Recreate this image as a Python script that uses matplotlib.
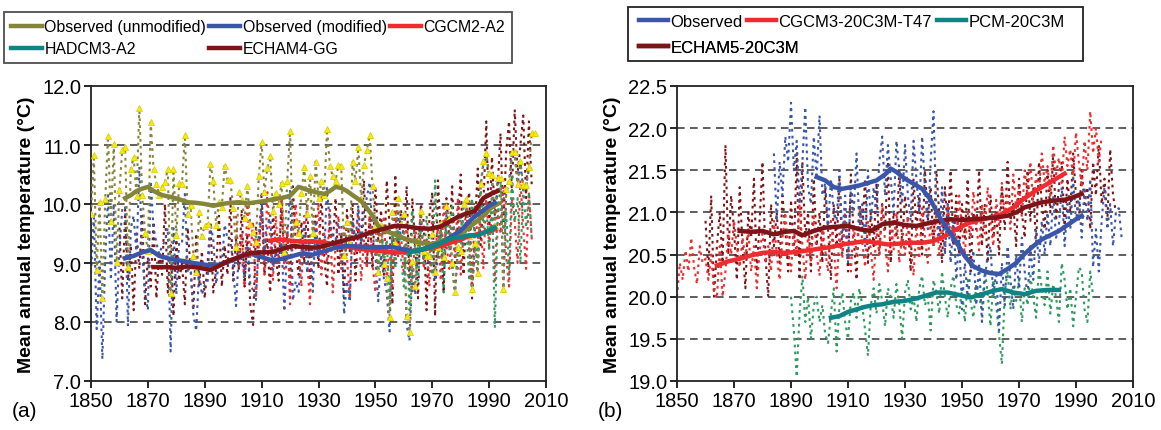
import matplotlib
matplotlib.use("Agg")
import matplotlib.pyplot as plt
from matplotlib.patches import Rectangle

plt.rcParams['font.family'] = ['Liberation Sans', 'DejaVu Sans']

# ---------------- Panel (a) data ----------------
obs_unmod_start = 1850
obs_unmod = [
    9.83, 10.83, 8.88, 10.03, 8.40, 10.08, 11.15, 9.71, 11.01, 9.01,
    10.24, 10.92, 10.96, 8.93, 10.59, 10.80, 10.14, 11.63, 10.15, 9.51,
    9.20, 11.39, 10.59, 10.34, 10.15, 10.29, 10.37, 10.59, 8.50, 10.59,
    9.47, 10.35, 10.34, 11.17, 9.83, 9.98, 9.12, 8.85, 9.86, 9.46,
    9.63, 9.66, 10.68, 10.39, 9.64, 10.03, 9.95, 10.65, 10.41, 10.41,
    9.93, 9.27, 10.20, 10.06, 9.76, 10.31, 9.66, 9.53, 9.36, 10.47,
    11.05, 10.20, 10.61, 10.81, 9.88, 10.19, 10.00, 10.36, 9.18, 10.39,
    11.24, 9.36, 9.69, 9.51, 10.19, 10.63, 9.83, 10.47, 9.51, 10.72,
    10.10, 10.39, 10.15, 11.27, 10.65, 10.47, 10.39, 10.66, 10.65, 9.13,
    9.69, 9.34, 10.72, 10.39, 10.96, 10.08, 10.66, 10.92, 11.17, 10.31,
    9.63, 8.85, 9.64, 8.98, 8.75, 8.09, 9.86, 9.34, 10.10, 9.66,
    9.83, 8.10, 7.83, 9.03, 8.61, 9.37, 9.88, 9.20, 9.12, 9.12,
    9.50, 8.85, 9.27, 9.68, 9.10, 9.97, 9.76, 9.00, 8.51, 9.27,
    9.20, 10.00, 10.08, 9.46, 8.56, 9.34, 8.83, 10.34, 10.73, 10.86,
    10.53, 10.50, 9.63, 10.44, 10.44, 8.56, 10.25, 10.39, 10.88, 10.88,
    10.34, 10.73, 10.32, 10.32, 10.63, 11.20, 11.20,
]
obs_mod_start = 1850
obs_mod = [
    8.83, 9.83, 7.88, 9.03, 7.37, 9.08, 10.15, 8.71, 10.01, 8.01,
    9.24, 9.92, 9.96, 7.93, 9.59, 9.80, 9.14, 10.63, 9.15, 8.51,
    8.20, 10.39, 9.59, 9.34, 9.15, 9.29, 9.37, 9.59, 7.50, 9.59,
    8.47, 9.35, 9.34, 10.17, 8.83, 8.98, 8.12, 7.85, 8.86, 8.46,
    8.63, 8.66, 9.68, 9.39, 8.64, 9.03, 8.95, 9.65, 9.41, 9.41,
    8.93, 8.27, 9.20, 9.06, 8.76, 9.31, 8.66, 8.53, 8.36, 9.47,
    10.05, 9.20, 9.61, 9.81, 8.88, 9.19, 9.00, 9.36, 8.18, 9.39,
    10.24, 8.36, 8.69, 8.51, 9.19, 9.63, 8.83, 9.47, 8.51, 9.72,
    9.10, 9.39, 9.15, 10.27, 9.65, 9.47, 9.39, 9.66, 9.65, 8.13,
    8.69, 8.34, 9.72, 9.39, 9.96, 9.28, 9.86, 10.12, 10.37, 9.51,
    9.13, 8.35, 9.14, 8.73, 8.50, 7.84, 9.61, 9.09, 9.85, 9.41,
    9.58, 7.95, 7.68, 8.88, 8.46, 9.22, 9.73, 9.05, 8.97, 8.97,
    9.35, 8.70, 9.12, 9.53, 8.95, 9.82, 9.71, 8.95, 8.46, 9.22,
    9.15, 9.95, 10.03, 9.41, 8.51, 9.29, 8.78, 10.29, 10.68, 10.81,
    10.48, 10.45, 9.58, 10.39, 10.39, 8.51, 10.20, 10.35, 10.80, 10.85,
    10.30, 10.70, 10.25, 10.30, 10.60,
]
cgcm2_start = 1901
cgcm2 = [
    9.8, 8.9, 9.5, 8.6, 10.0, 9.1, 9.7, 8.4, 9.3, 9.9,
    8.8, 10.2, 9.4, 8.7, 9.8, 9.0, 10.1, 8.9, 9.6, 8.3,
    9.5, 10.0, 9.2, 8.6, 9.8, 9.1, 8.3, 9.7, 9.4, 10.0,
    8.8, 9.5, 9.0, 9.9, 8.5, 9.3, 9.8, 8.9, 9.6, 9.1,
    8.4, 9.7, 9.2, 9.9, 8.7, 9.4, 8.9, 9.8, 9.0, 8.5,
    9.6, 9.2, 9.8, 8.7, 9.3, 8.6, 9.9, 9.1, 9.5, 8.8,
    9.7, 9.0, 8.5, 9.6, 9.3, 9.9, 8.9, 9.4, 8.6, 9.8,
    9.2, 9.6, 8.7, 10.0, 9.3, 8.9, 9.7, 9.1, 10.1, 8.8,
    9.5, 9.9, 9.2, 8.6, 10.0, 9.4, 9.7, 8.9, 10.2, 9.3,
    9.8, 8.7, 10.0, 9.5, 10.3, 9.1, 8.6, 10.1, 9.7, 9.0,
    10.4, 9.6, 8.9, 10.2, 9.4,
]
hadcm3_start = 1950
hadcm3 = [
    9.3, 8.8, 9.6, 9.0, 9.4, 8.3, 9.5, 8.9, 9.7, 9.1,
    8.6, 9.4, 8.2, 9.9, 9.2, 8.7, 9.6, 9.0, 9.8, 9.3,
    8.8, 10.4, 9.1, 9.6, 8.5, 9.7, 9.2, 10.0, 9.4, 8.9,
    9.8, 9.3, 9.6, 8.7, 10.1, 9.5, 9.0, 10.3, 9.6, 10.0,
    9.2, 10.2, 7.9, 9.7, 10.4, 9.5, 9.9, 8.8, 10.5, 9.7,
    10.1, 9.0, 10.3, 9.6, 10.2, 9.4,
]
echam4_start = 1860
echam4 = [
    9.6, 8.4, 9.9, 8.7, 9.3, 8.2, 9.5, 8.9, 9.8, 8.3,
    9.1, 8.6, 9.7, 8.4, 9.2, 8.8, 10.0, 8.5, 9.3, 8.1,
    9.4, 8.7, 9.0, 8.3, 9.6, 8.9, 8.2, 9.5, 8.6, 9.2,
    8.4, 9.0, 9.7, 8.5, 8.9, 9.8, 8.6, 9.3, 8.8, 10.1,
    8.7, 9.4, 8.9, 9.9, 8.6, 9.5, 8.3, 7.95, 9.6, 9.0,
    10.2, 8.8, 9.4, 8.5, 9.9, 9.1, 8.7, 10.1, 9.0, 9.5,
    8.6, 10.3, 9.2, 8.8, 9.7, 9.0, 10.0, 8.7, 9.4, 9.8,
    8.9, 10.2, 9.1, 8.6, 9.7, 9.3, 10.1, 8.8, 9.5, 8.4,
    9.9, 9.2, 10.0, 8.7, 9.6, 9.3, 10.4, 9.0, 9.8, 8.9,
    10.3, 9.4, 9.9, 8.8, 10.4, 9.6, 8.3, 10.5, 9.2, 9.9,
    9.4, 10.3, 8.6, 10.1, 9.3, 8.4, 10.0, 9.7, 8.2, 9.8,
    10.2, 8.1, 10.4, 9.5, 8.5, 10.1, 9.4, 10.3, 9.0, 9.7,
    10.5, 8.8, 9.9, 10.2, 8.4, 9.6, 10.6, 9.3, 10.0, 11.4,
    9.5, 10.8, 9.8, 10.3, 11.2, 9.6, 10.9, 11.4, 10.2, 11.6,
    10.5, 11.0, 11.5, 10.1, 11.4, 10.3,
]

# 25-yr running means
unmod_sm_years = [1862, 1864, 1866, 1868, 1870, 1872, 1875, 1878, 1881, 1884, 1887, 1890, 1893,
                  1896, 1899, 1902, 1905, 1908, 1911, 1914, 1917, 1920, 1923, 1926, 1929,
                  1932, 1934, 1936, 1938, 1940, 1942, 1945, 1947, 1949, 1951, 1953, 1956,
                  1960, 1965, 1970, 1975, 1980, 1985, 1988, 1991, 1993]
unmod_sm = [10.10, 10.15, 10.22, 10.26, 10.29, 10.22, 10.15, 10.12, 10.08, 10.03, 10.02, 10.00, 9.97,
            10.00, 10.02, 10.03, 10.01, 10.03, 10.05, 10.08, 10.10, 10.14, 10.29, 10.24, 10.20,
            10.17, 10.22, 10.29, 10.27, 10.22, 10.15, 10.05, 9.93, 9.80, 9.63, 9.55, 9.50,
            9.42, 9.35, 9.32, 9.40, 9.50, 9.68, 9.80, 9.95, 10.00]
mod_sm_years = [1862, 1865, 1868, 1871, 1874, 1877, 1880, 1883, 1886, 1889, 1893, 1896, 1900,
                1903, 1906, 1910, 1914, 1918, 1921, 1924, 1928, 1932, 1936, 1940, 1944,
                1948, 1952, 1956, 1960, 1963, 1966, 1970, 1974, 1977, 1980, 1984, 1987, 1990, 1992]
mod_sm = [9.08, 9.12, 9.18, 9.22, 9.12, 9.08, 9.05, 9.03, 9.00, 8.98, 8.95, 8.98, 9.05,
          9.12, 9.16, 9.10, 9.04, 9.08, 9.12, 9.16, 9.14, 9.20, 9.26, 9.29, 9.28,
          9.27, 9.27, 9.27, 9.23, 9.20, 9.22, 9.29, 9.36, 9.46, 9.55, 9.75, 9.86, 9.97, 10.02]
cgcm2_sm_years = [1913, 1916, 1920, 1924, 1928, 1932, 1936, 1940, 1944, 1948, 1952, 1956,
                  1960, 1964, 1968, 1972, 1975, 1978, 1982, 1986, 1990, 1992]
cgcm2_sm = [9.38, 9.40, 9.38, 9.36, 9.37, 9.35, 9.31, 9.28, 9.24, 9.22, 9.20, 9.18,
            9.18, 9.21, 9.24, 9.28, 9.32, 9.37, 9.44, 9.49, 9.54, 9.57]
hadcm3_sm_years = [1962, 1965, 1968, 1971, 1974, 1977, 1980, 1983, 1986, 1989, 1992]
hadcm3_sm = [9.18, 9.22, 9.25, 9.29, 9.36, 9.42, 9.44, 9.47, 9.47, 9.53, 9.60]
echam4_sm_years = [1872, 1876, 1880, 1884, 1888, 1892, 1895, 1898, 1902, 1906, 1910, 1914,
                   1918, 1921, 1925, 1929, 1933, 1937, 1941, 1945, 1949, 1953, 1957, 1961,
                   1965, 1969, 1973, 1976, 1979, 1982, 1985, 1988, 1991, 1993]
echam4_sm = [8.93, 8.93, 8.92, 8.94, 8.92, 8.88, 8.95, 9.03, 9.10, 9.17, 9.18, 9.19,
             9.25, 9.29, 9.27, 9.26, 9.30, 9.36, 9.41, 9.46, 9.53, 9.58, 9.63, 9.62,
             9.59, 9.58, 9.62, 9.70, 9.78, 9.84, 9.88, 10.10, 10.18, 10.22]

# ---------------- Panel (b) data ----------------
obs_b_start = 1884
obs_b = [
    21.7, 20.9, 21.6, 21.2, 21.9, 21.6, 22.3, 21.5, 21.85, 21.1,
    21.6, 22.25, 21.3, 21.1, 21.9, 21.4, 22.15, 21.2, 21.35, 20.8,
    21.4, 21.0, 20.9, 21.5, 20.7, 21.2, 20.4, 21.3, 21.0, 21.7,
    20.8, 21.1, 20.6, 21.5, 20.9, 21.3, 21.0, 21.6, 21.9, 21.2,
    21.8, 21.4, 21.0, 21.85, 21.5, 21.1, 21.8, 21.2, 20.9, 21.85,
    21.4, 21.0, 21.9, 21.3, 20.8, 21.6, 22.2, 21.0, 20.7, 21.3,
    20.5, 21.1, 20.4, 20.9, 20.2, 20.7, 19.85, 20.4, 20.0, 20.3,
    20.55, 19.9, 20.4, 19.7, 20.2, 20.5, 20.6, 20.0, 20.3, 19.6,
    20.4, 19.9, 20.6, 20.2, 19.85, 20.5, 20.1, 20.7, 20.3, 20.0,
    20.6, 20.2, 20.8, 20.4, 20.9, 20.5, 21.0, 20.6, 21.2, 20.7,
    20.85, 21.3, 20.6, 21.1, 20.8, 21.4, 20.9, 21.2, 20.7, 21.3,
    20.9, 21.4, 20.35, 20.8, 20.3, 20.9, 21.3, 20.8, 21.1, 20.6,
    21.0, 21.05, 20.7,
]
cgcm3_start = 1850
cgcm3 = [
    20.0, 20.4, 20.2, 20.55, 20.3, 20.7, 20.35, 20.15, 20.6, 20.4,
    20.45, 20.2, 20.5, 20.05, 19.98, 20.6, 20.0, 20.3, 20.75, 20.5,
    20.9, 20.6, 20.35, 20.7, 20.45, 20.8, 20.3, 20.6, 20.1, 20.55,
    20.75, 20.4, 20.6, 20.3, 20.9, 20.5, 20.2, 20.7, 21.0, 20.55,
    20.3, 20.8, 20.5, 21.1, 20.6, 20.2, 20.75, 20.4, 20.95, 20.5,
    20.25, 20.8, 20.55, 20.3, 20.9, 20.6, 20.1, 20.75, 20.45, 21.0,
    20.6, 20.3, 20.85, 20.5, 21.05, 20.65, 20.35, 20.9, 20.55, 20.2,
    20.8, 20.5, 21.1, 20.65, 20.3, 20.9, 20.55, 21.0, 20.4, 20.75,
    20.5, 20.95, 20.6, 20.25, 20.85, 20.45, 21.05, 20.7, 20.4, 20.9,
    20.6, 21.0, 20.5, 20.85, 20.55, 21.1, 20.7, 20.9, 20.6, 21.2,
    20.8, 20.5, 21.0, 20.7, 21.25, 20.85, 20.55, 21.1, 20.75, 21.3,
    20.9, 20.6, 21.15, 20.85, 21.35, 20.95, 21.2, 20.8, 21.45, 21.05,
    21.3, 20.95, 21.5, 21.2, 21.6, 21.1, 21.45, 21.25, 21.7, 21.35,
    21.55, 21.2, 21.8, 21.45, 21.65, 21.35, 21.9, 21.55, 21.75, 21.4,
    21.95, 21.6, 21.3, 21.85, 21.5, 22.2, 21.7, 22.0, 21.6, 21.9,
]
pcm_start = 1890
pcm = [
    20.0, 19.6, 19.05, 19.8, 20.25, 19.7, 20.0, 19.5, 19.9, 20.0,
    19.7, 19.9, 19.55, 19.45, 19.8, 20.1, 19.35, 19.9, 20.05, 19.7,
    19.5, 19.95, 20.05, 19.75, 20.1, 19.9, 19.6, 19.3, 19.9, 20.1,
    19.8, 20.15, 19.95, 19.65, 20.1, 20.0, 19.75, 20.15, 19.9, 19.5,
    20.05, 20.2, 19.85, 20.0, 19.7, 20.1, 20.25, 19.9, 20.0, 19.6,
    20.2, 20.05, 19.8, 20.3, 20.0, 19.75, 20.1, 20.25, 19.9, 19.8,
    20.1, 19.7, 20.2, 19.95, 19.75, 20.15, 20.0, 19.85, 20.3, 20.05,
    19.65, 20.2, 19.9, 19.55, 19.2, 20.05, 20.3, 19.85, 20.15, 19.95,
    20.2, 19.7, 20.1, 19.9, 20.25, 20.0, 19.75, 20.35, 20.1, 19.9,
    20.3, 19.8, 20.15, 20.0, 19.7, 20.4, 20.2, 19.85, 20.1, 19.65,
    20.0, 20.35, 20.3, 19.85, 19.7, 20.3, 20.0,
]
echam5_start = 1860
echam5 = [
    20.9, 20.3, 21.2, 20.0, 20.6, 21.0, 20.4, 21.8, 20.5, 21.2,
    20.8, 20.2, 21.3, 20.6, 20.1, 21.0, 20.7, 21.4, 20.3, 20.9,
    21.6, 20.5, 20.0, 21.1, 20.6, 21.0, 20.4, 21.2, 20.8, 20.3,
    21.15, 20.5, 21.7, 20.2, 21.6, 20.7, 21.0, 20.3, 21.4, 20.6,
    21.0, 20.4, 21.3, 20.8, 20.2, 21.1, 20.6, 21.4, 20.5, 21.0,
    20.3, 21.45, 20.7, 20.2, 21.1, 20.8, 21.4, 20.4, 21.0, 20.6,
    21.35, 20.5, 21.1, 20.8, 21.6, 20.4, 21.0, 20.7, 21.5, 20.6,
    21.2, 20.9, 20.3, 21.4, 20.8, 21.2, 20.5, 21.5, 20.9, 21.3,
    20.6, 21.5, 21.0, 20.4, 21.3, 20.8, 21.5, 20.6, 21.2, 20.5,
    21.1, 20.7, 21.4, 20.3, 21.0, 20.8, 21.5, 20.6, 21.1, 20.4,
    21.2, 20.7, 21.0, 20.5, 21.3, 20.8, 21.6, 20.9, 21.1, 20.6,
    21.4, 21.0, 20.7, 21.5, 20.9, 21.3, 20.6, 21.6, 21.1, 20.8,
    21.5, 21.0, 21.7, 20.9, 21.3, 21.6, 20.8, 21.4, 21.0, 21.7,
    21.2, 20.9, 21.5, 21.1, 21.3, 20.8, 21.6, 21.2, 21.8, 21.1,
    21.4, 20.9, 21.75, 21.2, 21.0,
]

obs_b_sm_years = [1899, 1902, 1905, 1908, 1911, 1914, 1917, 1920, 1923, 1925, 1927, 1930,
                  1933, 1936, 1939, 1942, 1945, 1948, 1951, 1954, 1957, 1960, 1963, 1966,
                  1969, 1972, 1975, 1978, 1981, 1984, 1987, 1990, 1992]
obs_b_sm = [21.42, 21.38, 21.30, 21.28, 21.30, 21.32, 21.35, 21.38, 21.45, 21.52, 21.48, 21.40,
            21.34, 21.28, 21.15, 20.95, 20.80, 20.65, 20.48, 20.36, 20.31, 20.28, 20.27, 20.33,
            20.40, 20.51, 20.60, 20.68, 20.73, 20.78, 20.85, 20.92, 20.96]
cgcm3_sm_years = [1864, 1868, 1872, 1876, 1880, 1884, 1888, 1892, 1896, 1900, 1904, 1908,
                  1912, 1916, 1920, 1924, 1928, 1932, 1936, 1940, 1944, 1948, 1952, 1956,
                  1960, 1964, 1968, 1972, 1976, 1980, 1983, 1986]
cgcm3_sm = [20.37, 20.42, 20.45, 20.49, 20.52, 20.53, 20.52, 20.53, 20.55, 20.57, 20.59, 20.62,
            20.64, 20.66, 20.64, 20.62, 20.63, 20.64, 20.64, 20.66, 20.72, 20.80, 20.87, 20.91,
            20.94, 20.98, 21.06, 21.17, 21.26, 21.34, 21.40, 21.46]
pcm_sm_years = [1904, 1907, 1910, 1913, 1916, 1919, 1922, 1926, 1930, 1934, 1938, 1941,
                1945, 1949, 1953, 1957, 1961, 1964, 1968, 1972, 1976, 1980, 1984]
pcm_sm = [19.75, 19.77, 19.82, 19.85, 19.88, 19.90, 19.91, 19.94, 19.95, 19.98, 20.02, 20.05,
          20.05, 20.02, 19.99, 20.03, 20.07, 20.09, 20.05, 20.03, 20.07, 20.08, 20.08]
echam5_sm_years = [1872, 1876, 1880, 1884, 1888, 1891, 1894, 1898, 1902, 1906, 1910, 1914,
                   1918, 1922, 1926, 1930, 1934, 1938, 1942, 1946, 1950, 1954, 1958, 1962,
                   1966, 1969, 1972, 1975, 1978, 1982, 1986, 1989, 1992]
echam5_sm = [20.78, 20.77, 20.78, 20.74, 20.77, 20.78, 20.73, 20.78, 20.82, 20.83, 20.84, 20.80,
             20.78, 20.86, 20.88, 20.85, 20.84, 20.87, 20.90, 20.92, 20.91, 20.92, 20.93, 20.94,
             20.96, 21.00, 21.06, 21.09, 21.12, 21.14, 21.15, 21.18, 21.22]

C_OLIVE = "#85853a"
C_BLUE = "#3a56a8"
C_RED = "#ee2b2e"
C_TEAL = "#0e8584"
C_GREEN = "#2f9a5e"
C_DRED = "#7d1418"
DOT = (0, (1.3, 2.0))
TICK_FS = 14.5
W, H = 1161, 431


def yrs(start, vals):
    return list(range(start, start + len(vals)))


def style_axes(ax, ylim, yticks):
    ax.set_xlim(1850, 2010)
    ax.set_ylim(*ylim)
    ax.set_xticks(range(1850, 2011, 20))
    ax.set_yticks(yticks)
    ax.set_yticklabels([f"{v:.1f}" for v in yticks])
    for v in yticks[1:-1]:
        ax.axhline(v, color="#333333", lw=1.1, dashes=(5, 3.5), zorder=0)
    ax.tick_params(direction="out", length=5, width=1.2, labelsize=TICK_FS, pad=2)
    for s in ax.spines.values():
        s.set_linewidth(1.3)
        s.set_color("#222222")
    ax.set_ylabel("Mean annual temperature (\u00b0C)", fontsize=14, fontweight="bold", labelpad=5)


def legend_row(ax, handles, labels, x0, y0, fs, hl, cs):
    # one unframed row of legend entries, anchored at its top-left corner (pixels)
    leg = ax.legend(handles, labels, ncol=len(handles), loc="upper left",
                    bbox_to_anchor=(x0 / W, 1 - y0 / H), bbox_transform=ax.figure.transFigure,
                    fontsize=fs, frameon=False, handlelength=hl, handletextpad=0.15,
                    columnspacing=cs, borderpad=0, borderaxespad=0)
    ax.add_artist(leg)
    return leg


def legend_box(fig, x0, y0, x1, y1):
    fig.add_artist(Rectangle((x0 / W, 1 - y1 / H), (x1 - x0) / W, (y1 - y0) / H,
                             transform=fig.transFigure, fill=False, ec="#222222", lw=1.3))


fig = plt.figure(figsize=(W / 100, H / 100), dpi=100)
ax1 = fig.add_axes([91 / W, 49 / H, 455 / W, 295 / H])
ax2 = fig.add_axes([677 / W, 49 / H, 456 / W, 295 / H])

# panel (a)
lw_d = 1.5
ax1.plot(yrs(echam4_start, echam4), echam4, color=C_DRED, lw=lw_d, ls=DOT, zorder=2)
ax1.plot(yrs(cgcm2_start, cgcm2), cgcm2, color=C_RED, lw=lw_d, ls=DOT, zorder=2)
ax1.plot(yrs(obs_mod_start, obs_mod), obs_mod, color=C_BLUE, lw=lw_d, ls=DOT, zorder=2)
ax1.plot(yrs(hadcm3_start, hadcm3), hadcm3, color=C_GREEN, lw=lw_d, ls=DOT, zorder=2)
ax1.plot(yrs(obs_unmod_start, obs_unmod), obs_unmod, color=C_OLIVE, lw=lw_d, ls=DOT, zorder=3,
         marker="^", ms=4.5, mfc="#f4ec10", mec="#e0d000", mew=0.6)

lw_s = 3.2
h_unmod, = ax1.plot(unmod_sm_years, unmod_sm, color=C_OLIVE, lw=lw_s, zorder=4)
h_cg2, = ax1.plot(cgcm2_sm_years, cgcm2_sm, color=C_RED, lw=lw_s, zorder=4)
h_mod, = ax1.plot(mod_sm_years, mod_sm, color=C_BLUE, lw=lw_s, zorder=5)
h_had, = ax1.plot(hadcm3_sm_years, hadcm3_sm, color=C_TEAL, lw=lw_s, zorder=5)
h_ech4, = ax1.plot(echam4_sm_years, echam4_sm, color=C_DRED, lw=lw_s, zorder=5)
style_axes(ax1, (7.0, 12.0), [7.0, 8.0, 9.0, 10.0, 11.0, 12.0])

leg1 = ax1.legend([h_unmod, h_had, h_mod, h_ech4, h_cg2],
                  ["Observed (unmodified)", "HADCM3-A2", "Observed (modified)", "ECHAM4-GG", "CGCM2-A2"],
                  ncol=3, loc="upper left", bbox_to_anchor=(4 / W, 1 - 13 / H),
                  bbox_transform=fig.transFigure, fontsize=11.4, frameon=True, fancybox=False,
                  handlelength=1.95, handletextpad=0.15, columnspacing=0.2, borderpad=0.45,
                  labelspacing=0.45, borderaxespad=0)
leg1.get_frame().set_edgecolor("#222222")
leg1.get_frame().set_linewidth(1.3)

# panel (b)
ax2.plot(yrs(echam5_start, echam5), echam5, color=C_DRED, lw=lw_d, ls=DOT, zorder=2)
ax2.plot(yrs(cgcm3_start, cgcm3), cgcm3, color=C_RED, lw=lw_d, ls=DOT, zorder=2)
ax2.plot(yrs(pcm_start, pcm), pcm, color=C_GREEN, lw=lw_d, ls=DOT, zorder=2)
ax2.plot(yrs(obs_b_start, obs_b), obs_b, color=C_BLUE, lw=lw_d, ls=DOT, zorder=2)

h_obs, = ax2.plot(obs_b_sm_years, obs_b_sm, color=C_BLUE, lw=lw_s, zorder=5)
h_cg3, = ax2.plot(cgcm3_sm_years, cgcm3_sm, color=C_RED, lw=lw_s, zorder=4)
h_pcm, = ax2.plot(pcm_sm_years, pcm_sm, color=C_TEAL, lw=lw_s, zorder=4)
h_ech5, = ax2.plot(echam5_sm_years, echam5_sm, color=C_DRED, lw=lw_s, zorder=4)
style_axes(ax2, (19.0, 22.5), [19.0, 19.5, 20.0, 20.5, 21.0, 21.5, 22.0, 22.5])

legend_row(ax2, [h_obs, h_cg3, h_pcm], ["Observed", "CGCM3-20C3M-T47", "PCM-20C3M"],
           639, 15, 12.0, 1.72, 0.3)
legend_row(ax2, [h_ech5], ["ECHAM5-20C3M"], 639, 41, 12.0, 1.72, 0.3)
legend_box(fig, 628, 8, 1083, 62)

fig.text(12 / W, 1 - 412 / H, "(a)", fontsize=15, va="center")
fig.text(598 / W, 1 - 412 / H, "(b)", fontsize=15, va="center")

fig.savefig("out.png", dpi=100)
